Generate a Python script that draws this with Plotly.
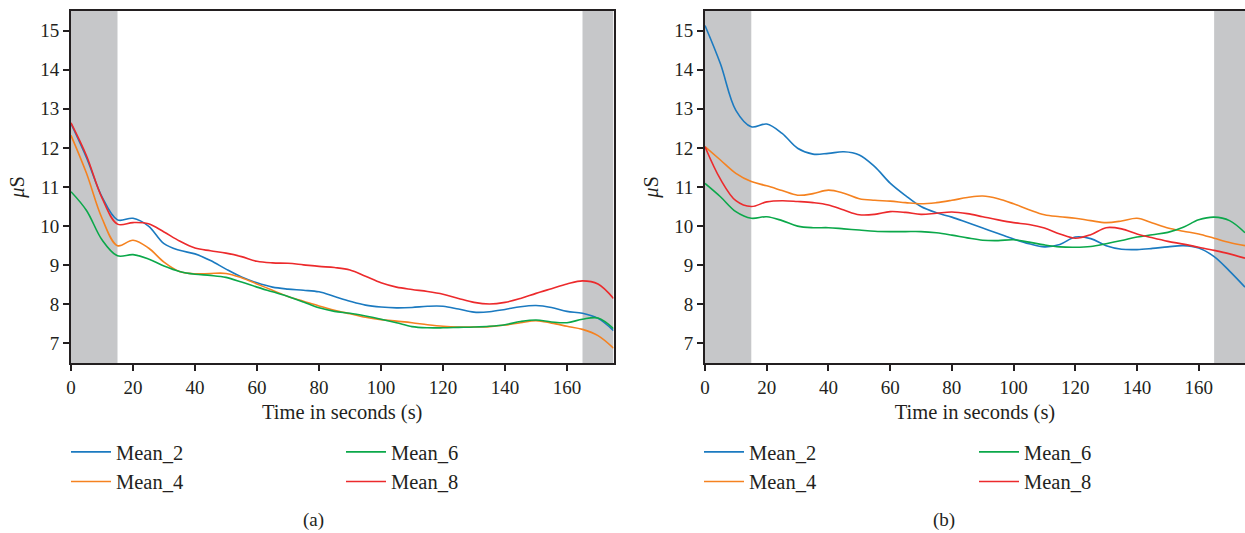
import plotly.graph_objects as go

time_s = list(range(0, 180, 5))

a_mean2 = [12.62, 11.75, 10.75, 10.16, 10.2, 10.0, 9.55, 9.38, 9.29, 9.12, 8.9, 8.7, 8.55, 8.44, 8.39, 8.36, 8.32, 8.2,
           8.08, 7.98, 7.93, 7.91, 7.92, 7.95, 7.95, 7.88, 7.8, 7.81, 7.87, 7.94, 7.97, 7.92, 7.82, 7.77, 7.64, 7.33]
a_mean4 = [12.32, 11.35, 10.2, 9.5, 9.64, 9.44, 9.08, 8.84, 8.78, 8.79, 8.79, 8.68, 8.52, 8.36, 8.2, 8.08, 7.96, 7.85,
           7.76, 7.67, 7.61, 7.57, 7.53, 7.48, 7.44, 7.42, 7.42, 7.43, 7.47, 7.53, 7.58, 7.52, 7.44, 7.36, 7.2, 6.88]
a_mean6 = [10.88, 10.4, 9.65, 9.24, 9.27, 9.16, 8.98, 8.84, 8.77, 8.74, 8.69, 8.57, 8.44, 8.32, 8.2, 8.06, 7.91, 7.82,
           7.77, 7.7, 7.62, 7.53, 7.43, 7.4, 7.4, 7.41, 7.42, 7.44, 7.48, 7.56, 7.6, 7.55, 7.53, 7.62, 7.65, 7.38]
a_mean8 = [12.64, 11.8, 10.72, 10.05, 10.09, 10.06, 9.85, 9.62, 9.44, 9.37, 9.31, 9.22, 9.1, 9.06, 9.05, 9.01, 8.97, 8.94,
           8.88, 8.72, 8.55, 8.44, 8.38, 8.33, 8.26, 8.15, 8.05, 8.01, 8.05, 8.15, 8.28, 8.4, 8.52, 8.6, 8.52, 8.15]

b_mean2 = [15.13, 14.15, 12.96, 12.54, 12.61, 12.37, 11.99, 11.84, 11.86, 11.9, 11.82, 11.52, 11.1, 10.78, 10.5, 10.34,
           10.23, 10.09, 9.95, 9.81, 9.67, 9.55, 9.47, 9.53, 9.72, 9.68, 9.5, 9.41, 9.4, 9.43, 9.47, 9.5, 9.44, 9.22, 8.85, 8.44]
b_mean4 = [12.03, 11.69, 11.35, 11.14, 11.03, 10.91, 10.79, 10.83, 10.92, 10.84, 10.7, 10.66, 10.64, 10.6, 10.57, 10.6,
           10.66, 10.73, 10.77, 10.7, 10.57, 10.42, 10.29, 10.24, 10.2, 10.14, 10.09, 10.13, 10.2, 10.08, 9.95, 9.87, 9.8,
           9.69, 9.58, 9.5]
b_mean6 = [11.09, 10.75, 10.37, 10.2, 10.24, 10.14, 10.0, 9.96, 9.96, 9.93, 9.9, 9.87, 9.86, 9.86, 9.86, 9.83, 9.77, 9.7,
           9.64, 9.63, 9.65, 9.59, 9.52, 9.47, 9.46, 9.48, 9.55, 9.63, 9.72, 9.78, 9.84, 9.97, 10.16, 10.23, 10.14, 9.83]
b_mean8 = [12.03, 11.2, 10.65, 10.5, 10.62, 10.65, 10.63, 10.6, 10.54, 10.41, 10.29, 10.3, 10.37, 10.35, 10.3, 10.33,
           10.36, 10.32, 10.24, 10.16, 10.09, 10.04, 9.95, 9.8, 9.69, 9.78, 9.96, 9.93, 9.8, 9.7, 9.61, 9.54, 9.46, 9.38,
           9.29, 9.18]

series_names = ["Mean_2", "Mean_4", "Mean_6", "Mean_8"]
band_starts = [0, 165]
band_ends = [15, 175]
x_ticks = [0, 20, 40, 60, 80, 100, 120, 140, 160]
y_ticks = [7, 8, 9, 10, 11, 12, 13, 14, 15]
panel_labels = ["(a)", "(b)"]

colors = ["#1b7ac0", "#f58220", "#0ba84a", "#ec2a2c"]
FONT = "Liberation Serif"
TXT = "#231f20"

fig = go.Figure()

panels = [
    ("x", "y", [a_mean2, a_mean4, a_mean6, a_mean8], ["legend", "legend", "legend2", "legend2"]),
    ("x2", "y2", [b_mean2, b_mean4, b_mean6, b_mean8], ["legend3", "legend3", "legend4", "legend4"]),
]
for xa, ya, data, legs in panels:
    for name, vals, col, lg in zip(series_names, data, colors, legs):
        fig.add_trace(go.Scatter(
            x=time_s, y=vals, name=name, mode="lines", xaxis=xa, yaxis=ya,
            line=dict(color=col, width=1.6, shape="spline", smoothing=1.0),
            legend=lg, showlegend=True,
        ))
    for s, e in zip(band_starts, band_ends):
        fig.add_shape(type="rect", xref=xa, yref=f"{ya} domain", x0=s, x1=e, y0=0, y1=1,
                      fillcolor="#c6c7c9", line_width=0, layer="below")

axis_common = dict(
    showline=True, mirror=True, linecolor=TXT, linewidth=2,
    ticks="outside", ticklen=6, tickwidth=1.6, tickcolor=TXT,
    showgrid=False, zeroline=False, automargin=False,
    tickfont=dict(family=FONT, size=19, color=TXT),
)

xdom1 = [71 / 1245, 613.5 / 1245]
xdom2 = [705 / 1245, 1.0]
ydom = [1 - 363 / 533, 1 - 11 / 533]

xtitle = dict(text="Time in seconds (s)", font=dict(family=FONT, size=20.5, color=TXT), standoff=8)
ytitle = dict(text="<i>μ</i>S", font=dict(family=FONT, size=20.5, color=TXT), standoff=10)

fig.update_layout(
    xaxis=dict(domain=xdom1, range=[0, 175], tickvals=x_ticks, anchor="y", title=xtitle, **axis_common),
    yaxis=dict(domain=ydom, range=[6.5, 15.5], tickvals=y_ticks, anchor="x", title=ytitle, **axis_common),
    xaxis2=dict(domain=xdom2, range=[0, 175], tickvals=x_ticks, anchor="y2", title=xtitle, **axis_common),
    yaxis2=dict(domain=ydom, range=[6.5, 15.5], tickvals=y_ticks, anchor="x2", title=ytitle, **axis_common),
)

leg_font = dict(family=FONT, size=20.5, color=TXT)
leg_y = 1 - 432 / 533
for key, xpx in [("legend", 66), ("legend2", 341), ("legend3", 699), ("legend4", 974)]:
    fig.update_layout({key: dict(x=xpx / 1245, y=leg_y, xanchor="left", yanchor="top",
                                 orientation="v", font=leg_font, bgcolor="rgba(0,0,0,0)",
                                 tracegroupgap=0, itemwidth=40)})

for lab, xpx in zip(panel_labels, [313, 944]):
    fig.add_annotation(text=lab, x=xpx / 1245, y=1 - 520 / 533, xref="paper", yref="paper",
                       showarrow=False, font=dict(family=FONT, size=19, color=TXT),
                       xanchor="center", yanchor="middle")

fig.update_layout(
    width=1245, height=533,
    margin=dict(l=0, r=0, t=0, b=0),
    paper_bgcolor="white", plot_bgcolor="white",
    font=dict(family=FONT, color=TXT),
)

fig.write_html("out.html")
